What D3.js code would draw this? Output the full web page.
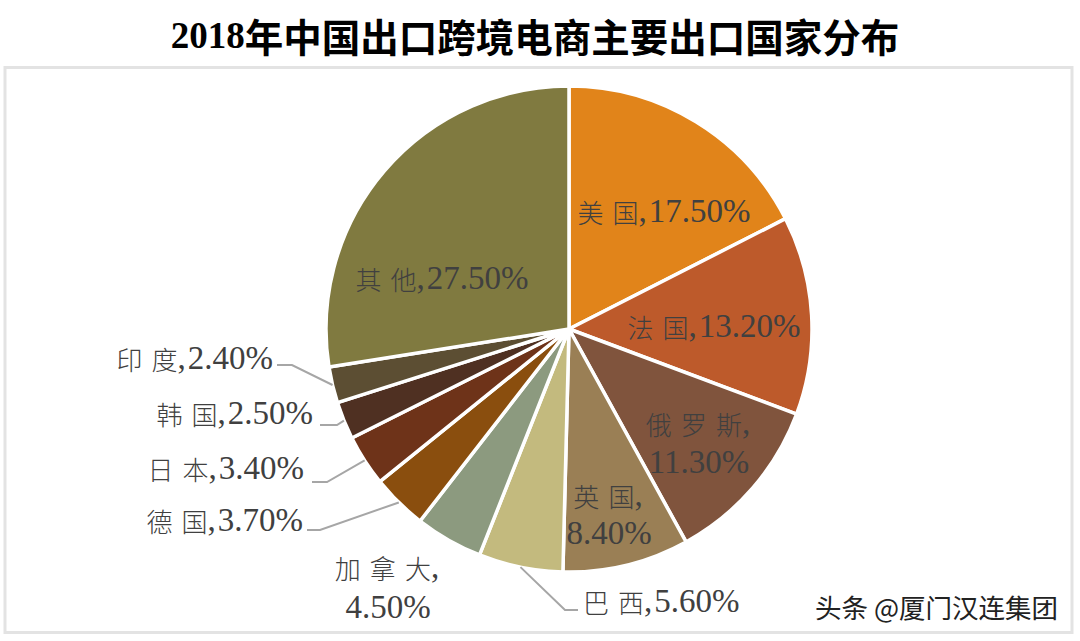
<!DOCTYPE html>
<html><head><meta charset="utf-8">
<script src="https://cdn.jsdelivr.net/npm/d3@7"></script>
<style>
html,body{margin:0;padding:0;background:#fff;}
svg{display:block;}
</style></head>
<body>
<svg id="chart" width="1080" height="641"></svg>
<script>
// ---- data ----
const categories = ["美国","法国","俄罗斯","英国","巴西","加拿大","德国","日本","韩国","印度","其他"];
const values = [17.5, 13.2, 11.3, 8.4, 5.6, 4.5, 3.7, 3.4, 2.5, 2.4, 27.5];
const valueLabels = ["17.50%","13.20%","11.30%","8.40%","5.60%","4.50%","3.70%","3.40%","2.50%","2.40%","27.50%"];
const title = "2018年中国出口跨境电商主要出口国家分布";
const watermark = "头条 @厦门汉连集团";

// ---- styles / layout (separate from data) ----
const colors = ["#E1841A","#BD5A2B","#80543D","#9A7F55","#C3BA7E","#8C9A7F","#8A4E0E","#6E3319","#4F3022","#5C4E33","#807A40"];
const cx = 569, cy = 329, R = 243;
const labelLayout = [
  {anchor:"middle", split:false, x:664, y:211},
  {anchor:"middle", split:false, x:714, y:326},
  {anchor:"middle", split:true,  x:699, y:423, dy:39},
  {anchor:"middle", split:true,  x:609, y:495, dy:38},
  {anchor:"start",  split:false, x:583, y:601, leader:[[565,610],[578,610]]},
  {anchor:"middle", split:true,  x:388, y:567, dy:40},
  {anchor:"end",    split:false, x:303, y:520, leader:[[320,530],[307,530]]},
  {anchor:"end",    split:false, x:304, y:468, leader:[[327,482],[312,482]]},
  {anchor:"end",    split:false, x:313, y:413, leader:[[337,425],[320,425]]},
  {anchor:"end",    split:false, x:273, y:358, leader:[[292,365],[277,365]]},
  {anchor:"middle", split:false, x:442, y:278}
];

const svg = d3.select("#chart");

// frame
svg.append("rect").attr("x",5).attr("y",67.5).attr("width",1067).attr("height",565)
  .attr("fill","#fff").attr("stroke","#e3e3e3").attr("stroke-width",3);

// title
const t = svg.append("text").attr("x",535).attr("y",35)
  .attr("text-anchor","middle").attr("dominant-baseline","central")
  .attr("fill","#000").attr("font-weight","bold");
t.append("tspan").attr("font-family","'Liberation Serif','Times New Roman',serif").attr("font-size",37).text(title.slice(0,4));
t.append("tspan").attr("font-family","'Noto Sans CJK SC',sans-serif").attr("font-size",38.5).text(title.slice(4));

// pie
const pie = d3.pie().sort(null).value(d => d)(values);
const arc = d3.arc().innerRadius(0).outerRadius(R);
const g = svg.append("g").attr("transform",`translate(${cx},${cy})`);
g.selectAll("path").data(pie).join("path")
  .attr("d",arc)
  .attr("fill",(d,i)=>colors[i])
  .attr("stroke","#fff").attr("stroke-width",3.5).attr("stroke-linejoin","round");

// leader lines
pie.forEach((d,i)=>{
  const L = labelLayout[i];
  if(!L.leader) return;
  const a = (d.startAngle+d.endAngle)/2;
  const p0 = [cx + R*Math.sin(a), cy - R*Math.cos(a)];
  svg.append("path").attr("d", d3.line()([p0, ...L.leader]))
    .attr("fill","none").attr("stroke","#a6a6a6").attr("stroke-width",2);
});

// labels
const serif = "'Liberation Serif','Times New Roman',serif";
const cjk = "'Noto Sans CJK SC',sans-serif";
function addLine(x,y,anchor,cjkText,numText){
  const tx = svg.append("text").attr("x",x).attr("y",y)
    .attr("text-anchor",anchor).attr("dominant-baseline","central").attr("fill","#404040");
  if(cjkText){
    tx.append("tspan").attr("font-family",cjk).attr("font-size",26).attr("font-weight",300)
      .attr("letter-spacing",9).text(cjkText.slice(0,-1));
    tx.append("tspan").attr("font-family",cjk).attr("font-size",26).attr("font-weight",300)
      .attr("letter-spacing",0).text(cjkText.slice(-1));
  }
  if(numText){
    const parts = numText.startsWith(",") ? [",", numText.slice(1)] : [numText];
    if(parts.length===2){
      tx.append("tspan").attr("font-family",serif).attr("font-size",33).attr("letter-spacing",2).text(parts[0]);
      if(parts[1]) tx.append("tspan").attr("font-family",serif).attr("font-size",33).attr("letter-spacing",0).text(parts[1]);
    } else {
      tx.append("tspan").attr("font-family",serif).attr("font-size",33).text(parts[0]);
    }
  }
}
categories.forEach((c,i)=>{
  const L = labelLayout[i];
  if(L.split){
    addLine(L.x, L.y, L.anchor, c, ",");
    addLine(L.x, L.y+L.dy, L.anchor, null, valueLabels[i]);
  } else {
    addLine(L.x, L.y, L.anchor, c, "," + valueLabels[i]);
  }
});

// watermark
svg.append("text").attr("x",1058).attr("y",606).attr("text-anchor","end").attr("dominant-baseline","central")
  .attr("font-family",cjk).attr("font-size",26.5).attr("fill","#222")
  .attr("stroke","#fff").attr("stroke-width",3).attr("paint-order","stroke")
  .text(watermark);
</script>
</body></html>
